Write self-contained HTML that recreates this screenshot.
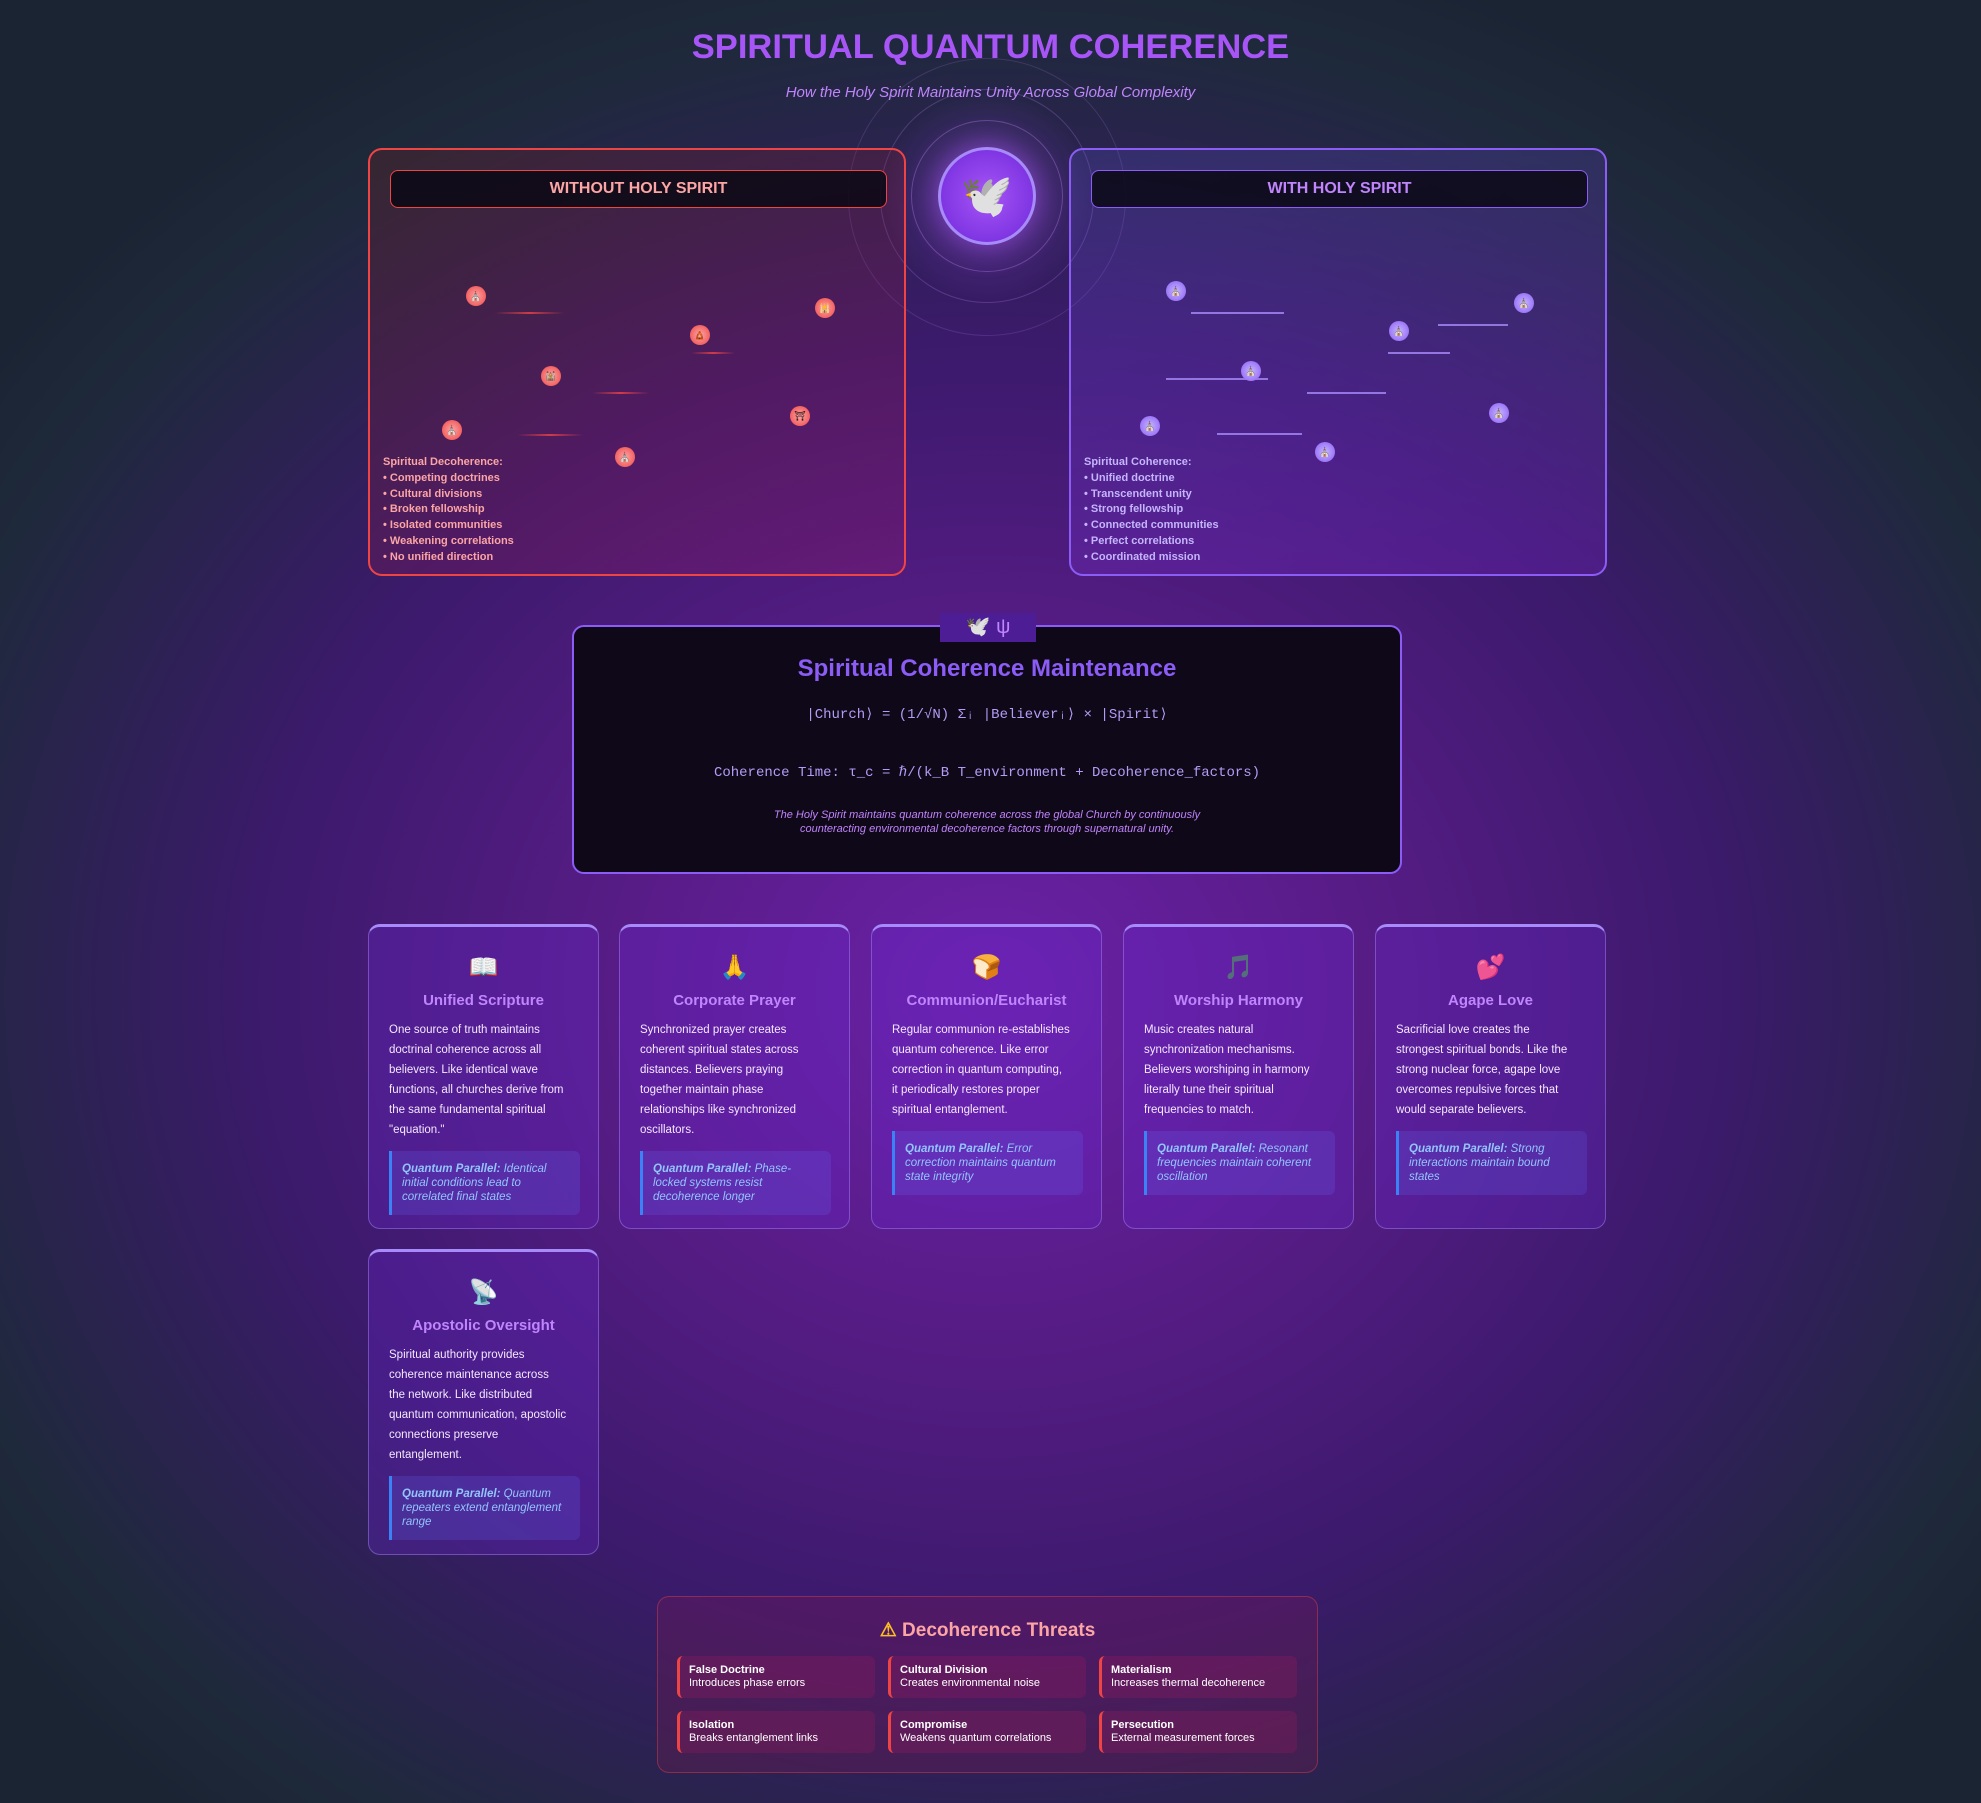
<!DOCTYPE html>
<html><head><meta charset="utf-8">
<style>
*{box-sizing:border-box;margin:0;padding:0}
body{width:1981px;height:1803px;overflow:hidden;font-family:"Liberation Sans",sans-serif;
background:radial-gradient(ellipse 62% 60% at 50% 55%,#6b21a8 0%,#581c87 30%,#3b1a6b 60%,#1e293b 90%,#1b2433 100%);position:relative}
.abs{position:absolute}
h1{position:absolute;left:0;width:1981px;top:28px;text-align:center;font-size:34.5px;font-weight:bold;color:#a855f7}
.sub{position:absolute;left:0;width:1981px;top:84px;text-align:center;font-size:15px;font-style:italic;color:#c084fc}
.panel{position:absolute;top:148px;width:538px;height:428px;border-radius:14px;border:2px solid}
.pl{left:368px;border-color:#ef4444;background:linear-gradient(160deg,rgba(127,29,29,.25),rgba(190,24,93,.18))}
.pr{left:1069px;border-color:#8b5cf6;background:linear-gradient(160deg,rgba(99,102,241,.18),rgba(126,34,206,.3))}
.ph{position:absolute;left:20px;top:20px;width:497px;height:38px;border-radius:8px;background:rgba(10,8,20,.85);border:1.5px solid;text-align:center;font-weight:bold;font-size:16px;line-height:35px}
.list{position:absolute;left:13px;top:305px;font-size:11px;font-weight:bold;line-height:15.8px}
.node{position:absolute;width:20px;height:20px;border-radius:50%;font-size:9px;text-align:center;line-height:20px}
.ln{position:absolute;height:2px}
.card{position:absolute;width:231px;height:305px;border-radius:12px;border:1px solid rgba(167,139,250,.45);background:rgba(109,40,217,.28);border-top:3px solid #a78bfa}
.card .ic{position:absolute;left:0;width:100%;top:26px;text-align:center;font-size:24px}
.card .t{position:absolute;left:0;width:100%;top:65px;text-align:center;font-size:15px;font-weight:bold;color:#c084fc}
.card .d{position:absolute;left:20px;top:93px;font-size:11.5px;line-height:20px;color:#f3e8ff}
.card .q{position:absolute;left:20px;width:191px;border-left:3px solid #3b82f6;background:rgba(99,102,241,.22);border-radius:0 6px 6px 0;padding:11px 10px;font-size:11.5px;font-style:italic;line-height:14px;color:#93c5fd}
.thr{position:absolute;width:198px;height:42px;border-radius:6px;border-left:3px solid #ef4444;background:rgba(190,24,93,.2);color:#fff;font-size:11px;padding:8px 9px;line-height:13px}
</style></head><body>
<div class="abs" style="left:848px;top:58px;width:278px;height:278px;border-radius:50%;border:1px solid rgba(192,132,252,.18)"></div>
<div class="abs" style="left:880px;top:89px;width:214px;height:214px;border-radius:50%;border:1px solid rgba(192,132,252,.25);background:radial-gradient(circle,rgba(168,85,247,.35),rgba(168,85,247,0) 70%)"></div>
<div class="abs" style="left:911px;top:120px;width:152px;height:152px;border-radius:50%;border:1px solid rgba(192,132,252,.35)"></div>
<h1>SPIRITUAL QUANTUM COHERENCE</h1>
<div class="sub">How the Holy Spirit Maintains Unity Across Global Complexity</div>

<div class="panel pl" id="pl">
 <div class="ph" style="border-color:#ef4444;color:#fca5a5">WITHOUT HOLY SPIRIT</div>
 <div class="list" style="color:#fca5a5">Spiritual Decoherence:<br>• Competing doctrines<br>• Cultural divisions<br>• Broken fellowship<br>• Isolated communities<br>• Weakening correlations<br>• No unified direction</div>
</div>
<div class="panel pr" id="pr">
 <div class="ph" style="border-color:#8b5cf6;color:#c084fc">WITH HOLY SPIRIT</div>
 <div class="list" style="color:#c4b5fd">Spiritual Coherence:<br>• Unified doctrine<br>• Transcendent unity<br>• Strong fellowship<br>• Connected communities<br>• Perfect correlations<br>• Coordinated mission</div>
</div>
<div class="abs" style="left:938px;top:147px;width:98px;height:98px;border-radius:50%;border:3px solid #a78bfa;background:radial-gradient(circle,#a855f7,#6d28d9);box-shadow:0 0 30px rgba(168,85,247,.7);text-align:center;line-height:92px;font-size:42px">🕊️</div>

<div class="abs" style="left:940px;top:613px;width:96px;height:29px;background:#4c1d95;text-align:center;font-size:20px;line-height:29px;color:#c084fc;z-index:2">🕊️ ψ</div>
<div class="abs" style="left:572px;top:625px;width:830px;height:249px;border-radius:12px;border:2px solid #8b5cf6;background:#0f0818">
 <div class="abs" style="left:0;width:100%;top:28px;text-align:center;font-size:24px;font-weight:bold;color:#8b5cf6">Spiritual Coherence Maintenance</div>
 <div class="abs" style="left:0;width:100%;top:79px;text-align:center;font-family:'Liberation Mono','DejaVu Sans Mono',monospace;font-size:14px;color:#b39cf5">|Church⟩ = (1/√N) Σᵢ |Believerᵢ⟩ × |Spirit⟩</div>
 <div class="abs" style="left:0;width:100%;top:137px;text-align:center;font-family:'Liberation Mono','DejaVu Sans Mono',monospace;font-size:14px;color:#b39cf5">Coherence Time: τ_c = ℏ/(k_B T_environment + Decoherence_factors)</div>
 <div class="abs" style="left:0;width:100%;top:181px;text-align:center;font-size:11px;font-style:italic;line-height:14px;color:#c084fc">The Holy Spirit maintains quantum coherence across the global Church by continuously<br>counteracting environmental decoherence factors through supernatural unity.</div>
</div>

<div class="card" style="left:368px;top:924px"><div class="ic">📖</div><div class="t">Unified Scripture</div><div class="d">One source of truth maintains<br>doctrinal coherence across all<br>believers. Like identical wave<br>functions, all churches derive from<br>the same fundamental spiritual<br>"equation."</div><div class="q" style="top:224px"><b>Quantum Parallel:</b> Identical initial conditions lead to correlated final states</div></div>
<div class="card" style="left:619px;top:924px"><div class="ic">🙏</div><div class="t">Corporate Prayer</div><div class="d">Synchronized prayer creates<br>coherent spiritual states across<br>distances. Believers praying<br>together maintain phase<br>relationships like synchronized<br>oscillators.</div><div class="q" style="top:224px"><b>Quantum Parallel:</b> Phase-locked systems resist decoherence longer</div></div>
<div class="card" style="left:871px;top:924px"><div class="ic">🍞</div><div class="t">Communion/Eucharist</div><div class="d">Regular communion re-establishes<br>quantum coherence. Like error<br>correction in quantum computing,<br>it periodically restores proper<br>spiritual entanglement.</div><div class="q" style="top:204px"><b>Quantum Parallel:</b> Error correction maintains quantum state integrity</div></div>
<div class="card" style="left:1123px;top:924px"><div class="ic">🎵</div><div class="t">Worship Harmony</div><div class="d">Music creates natural<br>synchronization mechanisms.<br>Believers worshiping in harmony<br>literally tune their spiritual<br>frequencies to match.</div><div class="q" style="top:204px"><b>Quantum Parallel:</b> Resonant frequencies maintain coherent oscillation</div></div>
<div class="card" style="left:1375px;top:924px"><div class="ic">💕</div><div class="t">Agape Love</div><div class="d">Sacrificial love creates the<br>strongest spiritual bonds. Like the<br>strong nuclear force, agape love<br>overcomes repulsive forces that<br>would separate believers.</div><div class="q" style="top:204px"><b>Quantum Parallel:</b> Strong interactions maintain bound states</div></div>
<div class="card" style="left:368px;top:1249px;height:306px"><div class="ic">📡</div><div class="t">Apostolic Oversight</div><div class="d">Spiritual authority provides<br>coherence maintenance across<br>the network. Like distributed<br>quantum communication, apostolic<br>connections preserve<br>entanglement.</div><div class="q" style="top:224px"><b>Quantum Parallel:</b> Quantum repeaters extend entanglement range</div></div>

<div class="abs" style="left:657px;top:1596px;width:661px;height:177px;border-radius:12px;border:1px solid rgba(239,68,68,.4);background:rgba(157,23,77,.2)">
 <div class="abs" style="left:0;width:100%;top:22px;text-align:center;font-size:19px;font-weight:bold;color:#fca5a5"><span style="color:#fbbf24">⚠</span> Decoherence Threats</div>
</div>
<div class="thr" style="left:677px;top:1656px"><b>False Doctrine</b><br>Introduces phase errors</div>
<div class="thr" style="left:888px;top:1656px"><b>Cultural Division</b><br>Creates environmental noise</div>
<div class="thr" style="left:1099px;top:1656px"><b>Materialism</b><br>Increases thermal decoherence</div>
<div class="thr" style="left:677px;top:1711px"><b>Isolation</b><br>Breaks entanglement links</div>
<div class="thr" style="left:888px;top:1711px"><b>Compromise</b><br>Weakens quantum correlations</div>
<div class="thr" style="left:1099px;top:1711px"><b>Persecution</b><br>External measurement forces</div>

<script>
// node centres in panel-local pixels
const leftNodeX=[106,455,330,181,430,82,255];
const leftNodeY=[146,158,185,226,266,280,307];
const leftIcons=['⛪','🕌','🛕','🕍','⛩','⛪','⛪'];
const leftLineX1=[125,321,222,147];
const leftLineX2=[194,365,279,213];
const leftLineY=[162,202,242,284];
const rightNodeX=[105,453,328,180,428,79,254];
const rightNodeY=[141,153,181,221,263,276,302];
const rightLineX1=[120,367,317,95,236,146];
const rightLineX2=[213,437,379,197,315,231];
const rightLineY=[162,174,202,228,242,283];
function draw(id,nx,ny,icons,lx1,lx2,ly,nodeBg,lineCol){
  const p=document.getElementById(id);
  for(let i=0;i<lx1.length;i++){
    const l=document.createElement('div');
    l.className='ln';
    
    
    l.style.left=lx1[i]+'px';l.style.width=(lx2[i]-lx1[i])+'px';l.style.top=ly[i]+'px';
    l.style.background=lineCol;
    p.appendChild(l);
  }
  for(let i=0;i<nx.length;i++){
    const n=document.createElement('div');
    n.className='node';
    
    
    n.style.left=(nx[i]-10)+'px';n.style.top=(ny[i]-10)+'px';
    n.style.background=nodeBg;
    n.textContent=icons?icons[i]:'⛪';
    p.appendChild(n);
  }
}
draw('pl',leftNodeX,leftNodeY,leftIcons,leftLineX1,leftLineX2,leftLineY,'radial-gradient(circle,#fca5a5,#ef4444)','linear-gradient(90deg,rgba(239,68,68,0),rgba(239,68,68,.8),rgba(239,68,68,0))');
draw('pr',rightNodeX,rightNodeY,null,rightLineX1,rightLineX2,rightLineY,'radial-gradient(circle,#c4b5fd,#8b5cf6)','rgba(167,139,250,.8)');
</script>
</body></html>
